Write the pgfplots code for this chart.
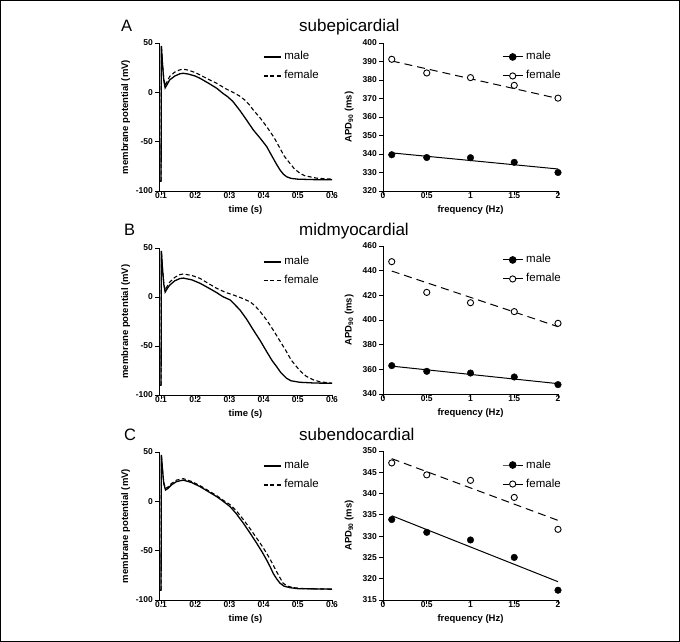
\documentclass[border=0pt]{standalone}
\usepackage{pgfplots}
\pgfplotsset{compat=1.18}
\usepackage{fontspec}
\setmainfont{Liberation Sans}

\pgfplotsset{
  common/.style={
    scale only axis, height=148pt,
    axis lines=left, axis line style={-, line width=0.9pt},
    tick align=outside, major tick length=4pt,
    tick style={black, line width=0.9pt},
    ticklabel style={font=\bfseries\fontsize{8.5}{10}\selectfont},
    xticklabel style={inner sep=1pt, yshift=4pt},
    yticklabel style={inner sep=2pt},
    label style={font=\bfseries\fontsize{9.5}{11}\selectfont},
    clip=false,
    legend cell align=left,
  },
  apbase/.style={
    common, width=173pt,
    xmin=0.094, xmax=0.6, ymin=-100, ymax=50,
    xtick={0.1,0.2,0.3,0.4,0.5,0.6},
    xticklabels={0.1,0.2,0.3,0.4,0.5,0.6},
    ytick={-100,-50,0,50}, yticklabels={-100,-50,0,50},
    xlabel={time (s)}, ylabel={membrane potential (mV)},
    xlabel style={at={(axis description cs:0.5,-0.128)}, anchor=center},
    ylabel style={at={(axis description cs:-0.192,0.5)}, anchor=center},
    legend style={draw=none, fill=none, at={(axis description cs:0.60,0.951)}, anchor=north west,
      font=\fontsize{11.5}{12}\selectfont, row sep=6pt, column sep=2pt, inner sep=0pt,
      nodes={inner sep=1pt, text height=8.5pt, text depth=2.5pt}},
    legend image code/.code={\draw[#1] (0pt,0pt) -- (17pt,0pt);},
  },
  apdbase/.style={
    common, width=175pt,
    xmin=0, xmax=2,
    xtick={0,0.5,1,1.5,2}, xticklabels={0,0.5,1,1.5,2},
    xlabel={frequency (Hz)}, ylabel={APD\textsubscript{90} (ms)},
    xlabel style={at={(axis description cs:0.5,-0.128)}, anchor=center},
    ylabel style={at={(axis description cs:-0.194,0.5)}, anchor=center},
    legend style={draw=none, fill=none, at={(axis description cs:0.68,0.951)}, anchor=north west,
      font=\fontsize{11.5}{12}\selectfont, row sep=6pt, column sep=2pt, inner sep=0pt,
      nodes={inner sep=1pt, text height=8.5pt, text depth=2.5pt}},
    legend image code/.code={\draw[mark repeat=2, mark phase=2, #1] plot coordinates {(0pt,0pt) (10pt,0pt) (20pt,0pt)};},
  },
  maleline/.style={black, line width=1.3pt},
  femaleline/.style={black, line width=1.1pt, dash pattern=on 4pt off 2.5pt},
  malept/.style={only marks, mark=*, mark size=3.3pt, mark options={fill=black, draw=black}, forget plot},
  femalept/.style={only marks, mark=*, mark size=3.1pt, mark options={fill=white, draw=black, line width=0.9pt}, forget plot},
  malefit/.style={black, line width=1pt, no marks, forget plot},
  femalefit/.style={black, line width=1pt, no marks, dash pattern=on 8pt off 5pt, forget plot},
  maleleg/.style={black, line width=1pt, mark=*, mark size=3.3pt, mark options={fill=black}},
  femaleleg/.style={black, line width=1pt, dash pattern=on 6.7pt off 6.6pt, mark=*, mark size=3.1pt, mark options={fill=white, solid, line width=0.9pt}},
}

\begin{document}
\begin{tikzpicture}
\path[use as bounding box] (0,0) rectangle (680pt,-642pt);
\draw[line width=1.2pt] (0.6pt,-0.6pt) rectangle (679.4pt,-641.4pt);

% titles
\node[anchor=base west, inner sep=0pt, font=\fontsize{16.5}{20}\selectfont] at (121pt,-31.7pt) {A};
\node[anchor=base west, inner sep=0pt, font=\fontsize{17}{20}\selectfont] at (299pt,-31.7pt) {subepicardial};
\node[anchor=base west, inner sep=0pt, font=\fontsize{16.5}{20}\selectfont] at (124pt,-235pt) {B};
\node[anchor=base west, inner sep=0pt, font=\fontsize{17}{20}\selectfont] at (299pt,-235pt) {midmyocardial};
\node[anchor=base west, inner sep=0pt, font=\fontsize{16.5}{20}\selectfont] at (124pt,-440.7pt) {C};
\node[anchor=base west, inner sep=0pt, font=\fontsize{17}{20}\selectfont] at (299pt,-440.7pt) {subendocardial};

% ---------- A left
\begin{axis}[apbase, at={(159pt,-191pt)}, anchor=south west]
\addplot[maleline] coordinates {(0.094,-90) (0.1,-90) (0.101,47) (0.104,30) (0.108,12) (0.112,4.5) (0.118,8) (0.125,12.5) (0.14,16.5) (0.155,18.8) (0.165,19.3) (0.18,18.5) (0.2,16.5) (0.214,14.2) (0.24,9) (0.263,4.1) (0.28,-0.8) (0.295,-4.5) (0.31,-9.2) (0.331,-18.6) (0.35,-28) (0.37,-38.2) (0.39,-46.5) (0.409,-55) (0.428,-66.9) (0.438,-73) (0.448,-78.7) (0.458,-83) (0.467,-85.5) (0.48,-87.2) (0.5,-88) (0.55,-88.5) (0.6,-88.5)};
\addlegendentry{male}
\addplot[femaleline] coordinates {(0.1,-90) (0.101,47) (0.104,30) (0.108,14) (0.112,7) (0.118,11) (0.125,16) (0.14,20.5) (0.155,22.8) (0.165,23.4) (0.18,22.5) (0.2,20) (0.214,17.6) (0.24,13) (0.263,9.1) (0.29,3.5) (0.312,-0.3) (0.33,-3.8) (0.345,-7.8) (0.358,-12.5) (0.37,-18) (0.39,-26) (0.409,-34.8) (0.43,-45.5) (0.448,-56.8) (0.46,-64.5) (0.477,-72) (0.49,-77.5) (0.506,-82) (0.52,-84.5) (0.555,-87) (0.6,-88)};
\addlegendentry{female}
\end{axis}

% ---------- A right
\begin{axis}[apdbase, at={(383pt,-191pt)}, anchor=south west,
  ymin=320, ymax=400, ytick={320,330,340,350,360,370,380,390,400},
  yticklabels={320,330,340,350,360,370,380,390,400}]
\addplot[malept] coordinates {(0.1,339.6) (0.5,338.1) (1,338.0) (1.5,335.5) (2,330.0)};
\addplot[femalept] coordinates {(0.1,391.2) (0.5,383.8) (1,381.3) (1.5,377.1) (2,370.2)};
\addplot[malefit] coordinates {(0.1,340.6) (2,331.9)};
\addplot[femalefit] coordinates {(0.1,390.3) (2,370.0)};
\addlegendimage{maleleg}
\addlegendentry{male}
\addlegendimage{femaleleg}
\addlegendentry{female}
\end{axis}

% ---------- B left
\begin{axis}[apbase, at={(159pt,-395pt)}, anchor=south west, height=147pt]
\addplot[maleline] coordinates {(0.094,-90) (0.1,-90) (0.101,47) (0.104,30) (0.108,13) (0.112,5) (0.118,8.5) (0.125,12) (0.14,16.5) (0.155,18.8) (0.165,19.3) (0.19,17.5) (0.214,14) (0.24,9) (0.263,4.4) (0.28,0.5) (0.302,-3) (0.315,-7.5) (0.331,-13.3) (0.35,-22.5) (0.37,-33.7) (0.39,-44.5) (0.409,-55.8) (0.425,-65) (0.438,-71) (0.45,-77) (0.467,-82.9) (0.48,-85.5) (0.506,-87) (0.55,-87.8) (0.6,-88)};
\addlegendentry{male}
\addplot[femaleline] coordinates {(0.1,-90) (0.101,47) (0.104,30) (0.108,14) (0.112,7) (0.118,11) (0.125,15) (0.14,20) (0.155,22.8) (0.165,23.5) (0.19,22) (0.214,19) (0.24,13.5) (0.263,8.8) (0.29,4.5) (0.312,2) (0.335,-1) (0.36,-4.8) (0.375,-9) (0.39,-15) (0.41,-24) (0.428,-33.7) (0.448,-45) (0.467,-55.8) (0.48,-64) (0.496,-71) (0.51,-76.5) (0.525,-81) (0.545,-84.5) (0.564,-86.4) (0.6,-88)};
\addlegendentry{female}
\end{axis}

% ---------- B right
\begin{axis}[apdbase, at={(383pt,-394pt)}, anchor=south west,
  ymin=340, ymax=460, ytick={340,360,380,400,420,440,460},
  yticklabels={340,360,380,400,420,440,460}]
\addplot[malept] coordinates {(0.1,363) (0.5,358.4) (1,357) (1.5,353.8) (2,347.6)};
\addplot[femalept] coordinates {(0.1,447.3) (0.5,422.4) (1,414) (1.5,406.8) (2,397.3)};
\addplot[malefit] coordinates {(0.1,362.6) (2,348.4)};
\addplot[femalefit] coordinates {(0.1,439.7) (2,394.6)};
\addlegendimage{maleleg}
\addlegendentry{male}
\addlegendimage{femaleleg}
\addlegendentry{female}
\end{axis}

% ---------- C left
\begin{axis}[apbase, at={(159pt,-600pt)}, anchor=south west]
\addplot[maleline] coordinates {(0.094,-90) (0.1,-90) (0.101,47) (0.104,33) (0.108,18) (0.113,11.5) (0.12,13) (0.13,16.5) (0.145,20) (0.165,21.5) (0.19,19) (0.214,14.9) (0.24,9.5) (0.263,4.7) (0.28,0.5) (0.302,-5.4) (0.32,-12.5) (0.341,-22.3) (0.36,-32) (0.38,-42.6) (0.395,-51) (0.409,-59.5) (0.42,-67) (0.428,-73) (0.438,-78.5) (0.448,-83) (0.46,-86) (0.477,-87.5) (0.5,-88.5) (0.6,-89)};
\addlegendentry{male}
\addplot[femaleline] coordinates {(0.1,-90) (0.101,47) (0.104,33) (0.108,19) (0.113,13) (0.12,14.5) (0.13,18) (0.145,21.5) (0.165,23) (0.19,20) (0.214,15.9) (0.24,10.5) (0.263,5.7) (0.28,1.5) (0.302,-3.4) (0.32,-9.5) (0.341,-18.6) (0.36,-27.5) (0.38,-37.5) (0.395,-45) (0.409,-52.7) (0.425,-62.5) (0.438,-71.3) (0.448,-77.5) (0.457,-83) (0.47,-86) (0.487,-87.5) (0.52,-88.5) (0.6,-89)};
\addlegendentry{female}
\end{axis}

% ---------- C right
\begin{axis}[apdbase, at={(383pt,-600pt)}, anchor=south west, height=149pt,
  ymin=315, ymax=350, ytick={315,320,325,330,335,340,345,350},
  yticklabels={315,320,325,330,335,340,345,350}]
\addplot[malept] coordinates {(0.1,333.9) (0.5,330.9) (1,329.1) (1.5,325) (2,317.3)};
\addplot[femalept] coordinates {(0.1,347.2) (0.5,344.4) (1,343.1) (1.5,339.1) (2,331.6)};
\addplot[malefit] coordinates {(0.1,334.8) (2,319.3)};
\addplot[femalefit] coordinates {(0.1,348.2) (2,333.7)};
\addlegendimage{maleleg}
\addlegendentry{male}
\addlegendimage{femaleleg}
\addlegendentry{female}
\end{axis}
\end{tikzpicture}
\end{document}
